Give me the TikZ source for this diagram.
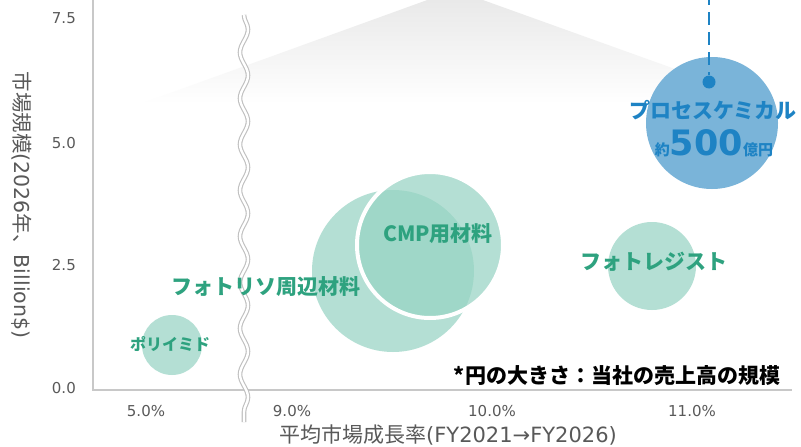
\documentclass[tikz,border=0pt]{standalone}
\usepackage{fontspec}
\setmainfont{DejaVu Sans}
\newfontfamily\jp{Noto Sans CJK JP}
\usetikzlibrary{decorations.pathmorphing}
\definecolor{axisgray}{RGB}{200,200,200}
\definecolor{ticktext}{RGB}{89,89,89}
\definecolor{gtext}{RGB}{46,162,127}
\definecolor{gfill}{RGB}{152,212,196}
\definecolor{bfill}{RGB}{122,180,217}
\definecolor{dblue}{RGB}{30,131,196}
\newcommand{\fs}[1]{\fontsize{#1}{#1}\selectfont}
\begin{document}
\begin{tikzpicture}[x=1pt,y=-1pt,
  gcirc/.style={circle, fill=gfill, fill opacity=0.72, inner sep=0pt},
  glab/.style={text=gtext, font=\jp\bfseries\fs{21}, inner sep=0pt},
  tick/.style={text=ticktext, font=\fs{15}, inner sep=0pt}]
\useasboundingbox (0,0) rectangle (801,447);
\clip (0,0) rectangle (801,447);
\fill[white] (0,0) rectangle (801,447);
% spotlight
\shade[top color=gray!19, middle color=gray!15, bottom color=white]
  (140,104) -- (455,-10) -- (700,78) -- (700,104) -- cycle;
% axes
\draw[axisgray, line width=1.5pt] (93,0) -- (93,390) -- (792,390);
% break
\draw[decorate, decoration={snake, amplitude=4pt, segment length=46pt},
  draw=gray!50, double=white, double distance=2.4pt, line width=1.1pt]
  (244,15) -- (244,422);
% ticks
\node[tick, anchor=east] (y75) at (76,18) {7.5};
\node[tick, anchor=east] (y50) at (76,143) {5.0};
\node[tick, anchor=east] (y25) at (76,265) {2.5};
\node[tick, anchor=east] (y00) at (76,388) {0.0};
\node[tick] (x5) at (146,411) {5.0\%};
\node[tick] (x9) at (292,411) {9.0\%};
\node[tick] (x10) at (492,411) {10.0\%};
\node[tick] (x11) at (692,411) {11.0\%};
% axis labels
\node[text=ticktext, font=\fs{20.5}, rotate=-90, inner sep=0pt] (ylab) at (22,205)
  {{\jp 市場規模}(2026{\jp 年、}Billion\$)};
\node[text=ticktext, font=\fs{21}, inner sep=0pt] (xlab) at (448,435)
  {{\jp 平均市場成長率}(FY2021→FY2026)};
% circles
\node[gcirc, minimum size=60pt] (pi) at (172,345) {};
\node[gcirc, minimum size=162pt] (fl) at (393,271) {};
\node[gcirc, minimum size=146pt, draw=white, draw opacity=1, line width=4pt] (cmp) at (430,245) {};
\node[gcirc, minimum size=88pt] (pr) at (652,266) {};
\node[circle, fill=bfill, minimum size=132pt, inner sep=0pt] (pc) at (712,123) {};
\coordinate (top) at (709,0);
\node[circle, fill=dblue, minimum size=13pt, inner sep=0pt] (dot) at (709,82) {};
\draw[dblue, line width=2.5pt, dash pattern=on 13pt off 7pt, dash phase=8pt] (top) -- (dot);
% labels
\node[glab, font=\jp\bfseries\fs{16}] (tpi) at (170,344) {ポリイミド};
\node[glab] (tfl) at (266,287) {フォトリソ周辺材料};
\node[glab] (tcmp) at (438,234) {CMP用材料};
\node[glab] (tpr) at (654,262) {フォトレジスト};
\node[glab, text=dblue] (tpc) at (713,110) {プロセスケミカル};
\node[text=dblue, inner sep=0pt] (tsz) at (714,143)
  {{\jp\bfseries\fs{15}約}{\bfseries\fs{35}500}{\jp\bfseries\fs{15}億円}};
\node[font=\jp\bfseries\fs{21}, inner sep=0pt] (note) at (617,376) {*円の大きさ：当社の売上高の規模};
\end{tikzpicture}
\end{document}
